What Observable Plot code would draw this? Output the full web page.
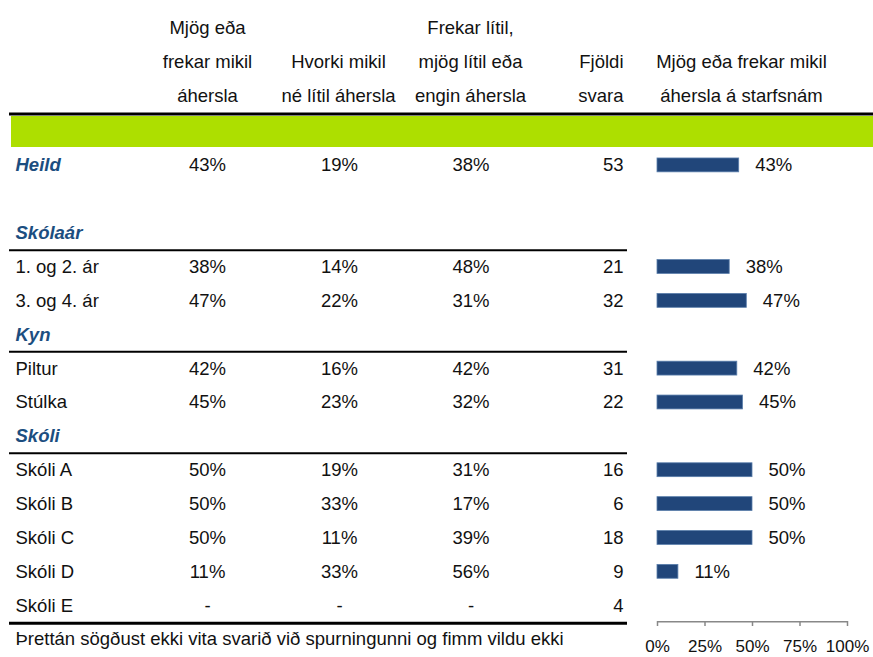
<!DOCTYPE html>
<html><head><meta charset="utf-8">
<script src="https://cdn.jsdelivr.net/npm/d3@7"></script>
<script src="https://cdn.jsdelivr.net/npm/@observablehq/plot@0.6"></script>
<style>body{margin:0;background:#fff}</style>
</head><body><div id="chart"></div>
<script>
// ---- data ----
const rowLabels = ["Heild", "1. og 2. ár", "3. og 4. ár", "Piltur", "Stúlka", "Skóli A", "Skóli B", "Skóli C", "Skóli D", "Skóli E"];
const mikil  = [43, 38, 47, 42, 45, 50, 50, 50, 11, null];
const hvorki = [19, 14, 22, 16, 23, 19, 33, 11, 33, null];
const litil  = [38, 48, 31, 42, 32, 31, 17, 39, 56, null];
const fjoldi = [53, 21, 32, 31, 22, 16, 6, 18, 9, 4];
const sections = ["Skólaár", "Kyn", "Skóli"];
const rowOrder = ["h1", "h2", "h3", "band", "Heild", "gap", "Skólaár", "1. og 2. ár", "3. og 4. ár",
  "Kyn", "Piltur", "Stúlka", "Skóli", "Skóli A", "Skóli B", "Skóli C", "Skóli D", "Skóli E", "note"];
const header1 = ["Mjög eða", "frekar mikil", "áhersla"];
const header2 = ["Hvorki mikil", "né lítil áhersla"];
const header3 = ["Frekar lítil,", "mjög lítil eða", "engin áhersla"];
const header4 = ["Fjöldi", "svara"];
const header5 = ["Mjög eða frekar mikil", "áhersla á starfsnám"];
const xTicks = [0, 25, 50, 75, 100];
const footnote = "Þrettán sögðust ekki vita svarið við spurningunni og fimm vildu ekki";

// ---- build ----
const table = rowLabels.map((label, i) => ({label, mikil: mikil[i], hvorki: hvorki[i], litil: litil[i], n: fjoldi[i]}));
const fmt = v => v == null ? "-" : v + "%";
const headerRows = lines => lines.map((t, i) => ({t, row: ["h1", "h2", "h3"][3 - lines.length + i]}));
const FONT = '"Liberation Sans", Arial, sans-serif';
const BLUE = "#1c4e80";
const BAR = "#21467a";
const INK = "#111";

function headerText(lines, opts) {
  return Plot.text(headerRows(lines), {y: "row", text: "t", frameAnchor: "left", textAnchor: "middle", dy: -2, fill: INK, ...opts});
}

const chart = Plot.plot({
  width: 873, height: 657,
  marginLeft: 9, marginRight: 0, marginTop: 0, marginBottom: 36,
  style: {fontFamily: FONT, fontSize: "18.5px", color: INK, background: "#fff"},
  x: {domain: [0, 100], range: [657, 847], axis: null, label: null},
  y: {domain: rowOrder, range: [12.5, 656], padding: 0, round: false, axis: null, label: null},
  marks: [
    Plot.ruleY(["band"], {stroke: "#addf00", strokeWidth: 31, insetLeft: 2}),
    Plot.ruleY(["band"], {dy: -17.5, stroke: "#000", strokeWidth: 3}),
    Plot.ruleY(sections, {dy: 17, stroke: "#000", strokeWidth: 2, insetRight: 246}),
    Plot.ruleY(["Skóli E"], {dy: 17.5, stroke: "#000", strokeWidth: 3, insetRight: 246}),
    // headers
    headerText(header1, {dx: 198}),
    headerText(header2, {dx: 329}),
    headerText(header3, {dx: 461}),
    headerText(header4, {dx: 614, textAnchor: "end"}),
    headerText(header5, {dx: 732}),
    // group headings
    Plot.text(["Heild", ...sections], {y: d => d, text: d => d, frameAnchor: "left", textAnchor: "start", dx: 6,
      fontWeight: "bold", fontStyle: "italic", fill: BLUE}),
    // row labels
    Plot.text(table.filter(d => d.label !== "Heild"), {y: "label", text: "label", frameAnchor: "left", textAnchor: "start", dx: 6, fill: INK}),
    // columns
    Plot.text(table, {y: "label", text: d => fmt(d.mikil), frameAnchor: "left", textAnchor: "middle", dx: 198, fill: INK}),
    Plot.text(table, {y: "label", text: d => fmt(d.hvorki), frameAnchor: "left", textAnchor: "middle", dx: 330, fill: INK}),
    Plot.text(table, {y: "label", text: d => fmt(d.litil), frameAnchor: "left", textAnchor: "middle", dx: 461.5, fill: INK}),
    Plot.text(table, {y: "label", text: d => String(d.n), frameAnchor: "left", textAnchor: "end", dx: 614, fill: INK}),
    // bars
    Plot.barX(table.filter(d => d.mikil != null), {x1: 0, x2: "mikil", y: "label", fill: BAR, stroke: "#5a7eab", strokeWidth: 0.8,
      insetTop: 10, insetBottom: 10}),
    Plot.text(table.filter(d => d.mikil != null), {x: "mikil", y: "label", text: d => d.mikil + "%", textAnchor: "start", dx: 16, fill: INK}),
    // axis
    Plot.ruleY(["Skóli E"], {x1: 0, x2: 100, dy: 16, stroke: "#888", strokeWidth: 1.5}),
    Plot.axisX({ticks: xTicks, tickFormat: d => d + "%", tickSize: 5, tickPadding: 13, stroke: "#888", strokeWidth: 1.5,
      fill: INK, fontSize: 17, anchor: "bottom", label: null}),
    // footnote
    Plot.text([footnote], {y: () => "note", text: d => d, frameAnchor: "left", textAnchor: "start", dx: 6, fill: INK})
  ]
});
document.getElementById("chart").appendChild(chart);
</script>
</body></html>
